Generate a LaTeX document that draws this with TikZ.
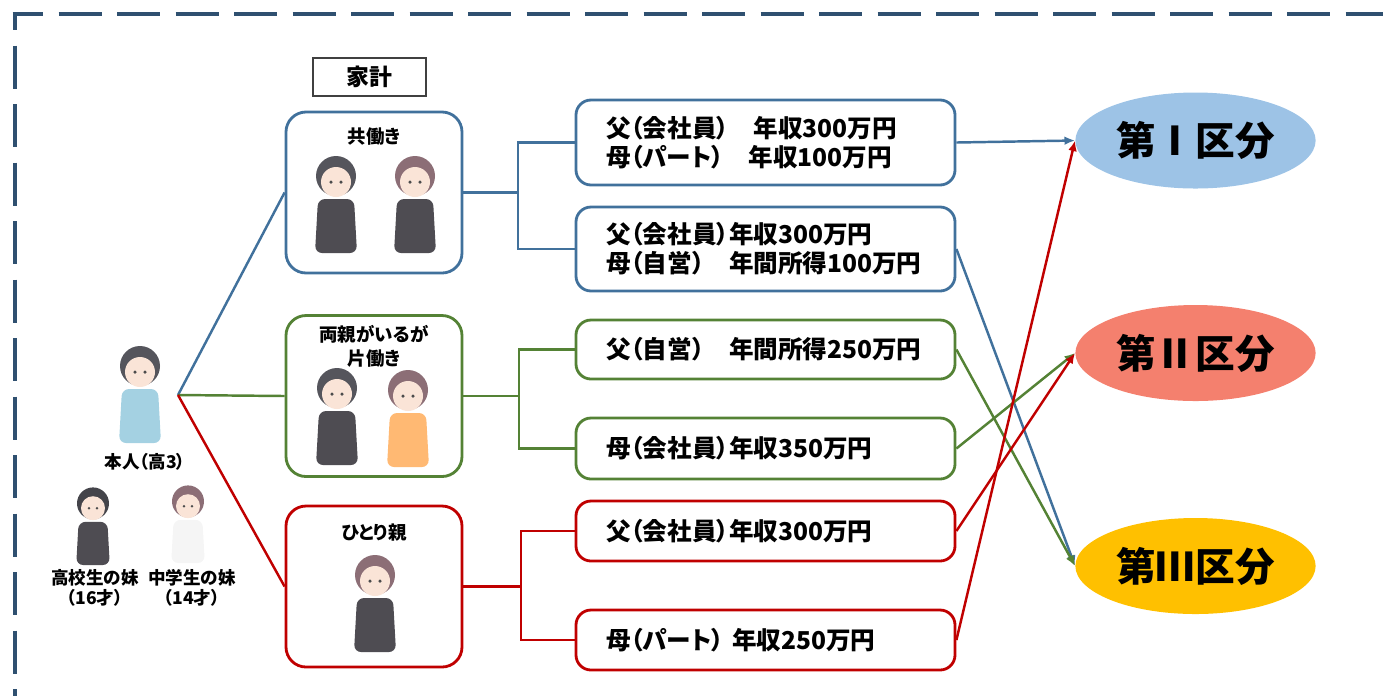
\documentclass[tikz,border=0pt]{standalone}
\usepackage{fontspec}
\setmainfont{Noto Sans CJK JP}[RawFeature=+palt]
\usepackage{tikz}
\usetikzlibrary{shapes.geometric,arrows.meta}
\definecolor{frameblue}{RGB}{47,80,112}
\definecolor{blueL}{RGB}{65,113,156}
\definecolor{greenL}{RGB}{84,130,53}
\definecolor{redL}{RGB}{192,0,0}
\definecolor{kubunA}{RGB}{157,195,230}
\definecolor{kubunB}{RGB}{244,128,110}
\definecolor{kubunC}{RGB}{255,192,0}
\definecolor{skin}{RGB}{250,228,215}
\definecolor{suit}{RGB}{78,76,82}
\definecolor{hairB}{RGB}{85,85,92}
\definecolor{hairW}{RGB}{140,110,118}
\tikzset{
  >={Latex[length=6pt,width=5pt]},
  pics/person/.style 2 args={code={
    \fill[#2,rounded corners=4pt] (-.36,-.42) -- (.36,-.42) -- (.42,-1.5) -- (-.42,-1.5) -- cycle;
    \fill[#1] (0,.04) circle (.4);
    \fill[skin] (0,-.08) circle (.3);
    \fill[black!70] (-.1,-.08) circle (.035) (.1,-.08) circle (.035);
  }},
}
\tikzstyle{every node}=[font=\bfseries]
\tikzstyle{frame}=[frameblue,line width=2.8pt,dash pattern=on .86cm off .31cm]
\tikzstyle{link}=[line width=1.4pt]
\tikzstyle{famibox}=[draw,fill=white,line width=1.6pt,rounded corners=.4cm,minimum width=3.52cm,minimum height=3.22cm]
\tikzstyle{incbox}=[draw,fill=white,line width=1.6pt,rounded corners=.3cm,minimum width=7.58cm,text width=6.38cm,inner xsep=.6cm,align=left,font=\bfseries\fontsize{14}{16.5}\selectfont]
\tikzstyle{kubun}=[ellipse,minimum width=4.7cm,minimum height=1.92cm,font=\bfseries\fontsize{22.5}{26}\selectfont]
\tikzstyle{small}=[align=center,font=\bfseries\fontsize{10}{11.4}\selectfont]
\tikzstyle{title}=[align=center,font=\bfseries\fontsize{10.5}{13.6}\selectfont]

\begin{document}
\begin{tikzpicture}
  \useasboundingbox (0,0) rectangle (27.66,-13.9);
  \draw[frame,dash phase=.25cm] (.25,-.28) -- (28,-.28);
  \draw[frame,dash phase=.54cm] (.3,-.28) -- (.3,-14.2);

  % family
  \coordinate (root) at (3.56,-7.9);
  \pic at (2.8,-7.36) {person={hairB}{cyan!45!teal!40}};
  \node[small] (honnin) at (2.9,-9.24) {本人（高3）};
  \pic[scale=.8] at (1.86,-10.1) {person={hairB!80!black}{suit}};
  \pic[scale=.8] at (3.76,-10.06) {person={hairW}{white!92!gray}};
  \node[small] (ane) at (1.9,-11.76) {高校生の妹\\（16才）};
  \node[small] (imo) at (3.84,-11.76) {中学生の妹\\（14才）};

  \node[draw=black!75,line width=1pt,minimum width=2.26cm,minimum height=.76cm,font=\bfseries\fontsize{13}{15}\selectfont] (kakei) at (7.39,-1.54) {家計};

  \node[famibox,draw=blueL] (kyo) at (7.48,-3.85) {};
  \node[famibox,draw=greenL] (ryo) at (7.48,-7.92) {};
  \node[famibox,draw=redL] (hitori) at (7.48,-11.73) {};
  \node[title] (kyot) at (7.48,-2.74) {共働き};
  \node[title] (ryot) at (7.48,-6.92) {両親がいるが\\片働き};
  \node[title] (hitorit) at (7.48,-10.66) {ひとり親};
  \pic at (6.72,-3.56) {person={hairB}{suit}};
  \pic at (8.3,-3.56) {person={hairW}{suit}};
  \pic at (6.74,-7.8) {person={hairB}{suit}};
  \pic at (8.16,-7.84) {person={hairW}{orange!55}};
  \pic at (7.5,-11.54) {person={hairW}{suit}};

  \draw[link,blueL] (root) -- (kyo.west);
  \draw[link,greenL] (root) -- (ryo.west);
  \draw[link,redL] (root) -- (hitori.west);

  % incomes
  \node[incbox,draw=blueL,minimum height=1.7cm] (p1) at (15.31,-2.85) {父（会社員）　年収300万円\\母（パート）　年収100万円};
  \node[incbox,draw=blueL,minimum height=1.68cm] (p2) at (15.31,-4.98) {父（会社員）年収300万円\\母（自営）　年間所得100万円};
  \node[incbox,draw=greenL,minimum height=1.18cm] (p3) at (15.31,-6.99) {父（自営）　年間所得250万円};
  \node[incbox,draw=greenL,minimum height=1.22cm] (p4) at (15.31,-8.97) {母（会社員）年収350万円};
  \node[incbox,draw=redL,minimum height=1.2cm] (p5) at (15.31,-10.62) {父（会社員）年収300万円};
  \node[incbox,draw=redL,minimum height=1.2cm] (p6) at (15.31,-12.8) {母（パート） 年収250万円};

  \coordinate (kb) at (10.36,-3.85);
  \coordinate (gb) at (10.38,-7.92);
  \coordinate (rb) at (10.42,-11.73);
  \draw[link,blueL] (kyo.east) -- (kb) (p1.west) -| (kb) |- (p2.west);
  \draw[link,greenL] (ryo.east) -- (gb) (p3.west) -| (gb) |- (p4.west);
  \draw[link,redL] (hitori.east) -- (rb) (p5.west) -| (rb) |- (p6.west);

  % kubun
  \node[kubun,fill=kubunA] (k1) at (23.91,-2.81) {第Ⅰ区分};
  \node[kubun,fill=kubunB] (k2) at (23.91,-7.06) {第Ⅱ区分};
  \node[kubun,fill=kubunC] (k3) at (23.91,-11.32) {第Ⅲ区分};

  \draw[link,blueL,->] (p1.east) -- (k1.west);
  \draw[link,blueL,->] (p2.east) -- (k3.west);
  \draw[link,greenL,->] (p3.east) -- (k3.west);
  \draw[link,greenL,->] (p4.east) -- (k2.west);
  \draw[link,redL,->] (p5.east) -- (k2.west);
  \draw[link,redL,->] (p6.east) -- (k1.west);
\end{tikzpicture}
\end{document}
